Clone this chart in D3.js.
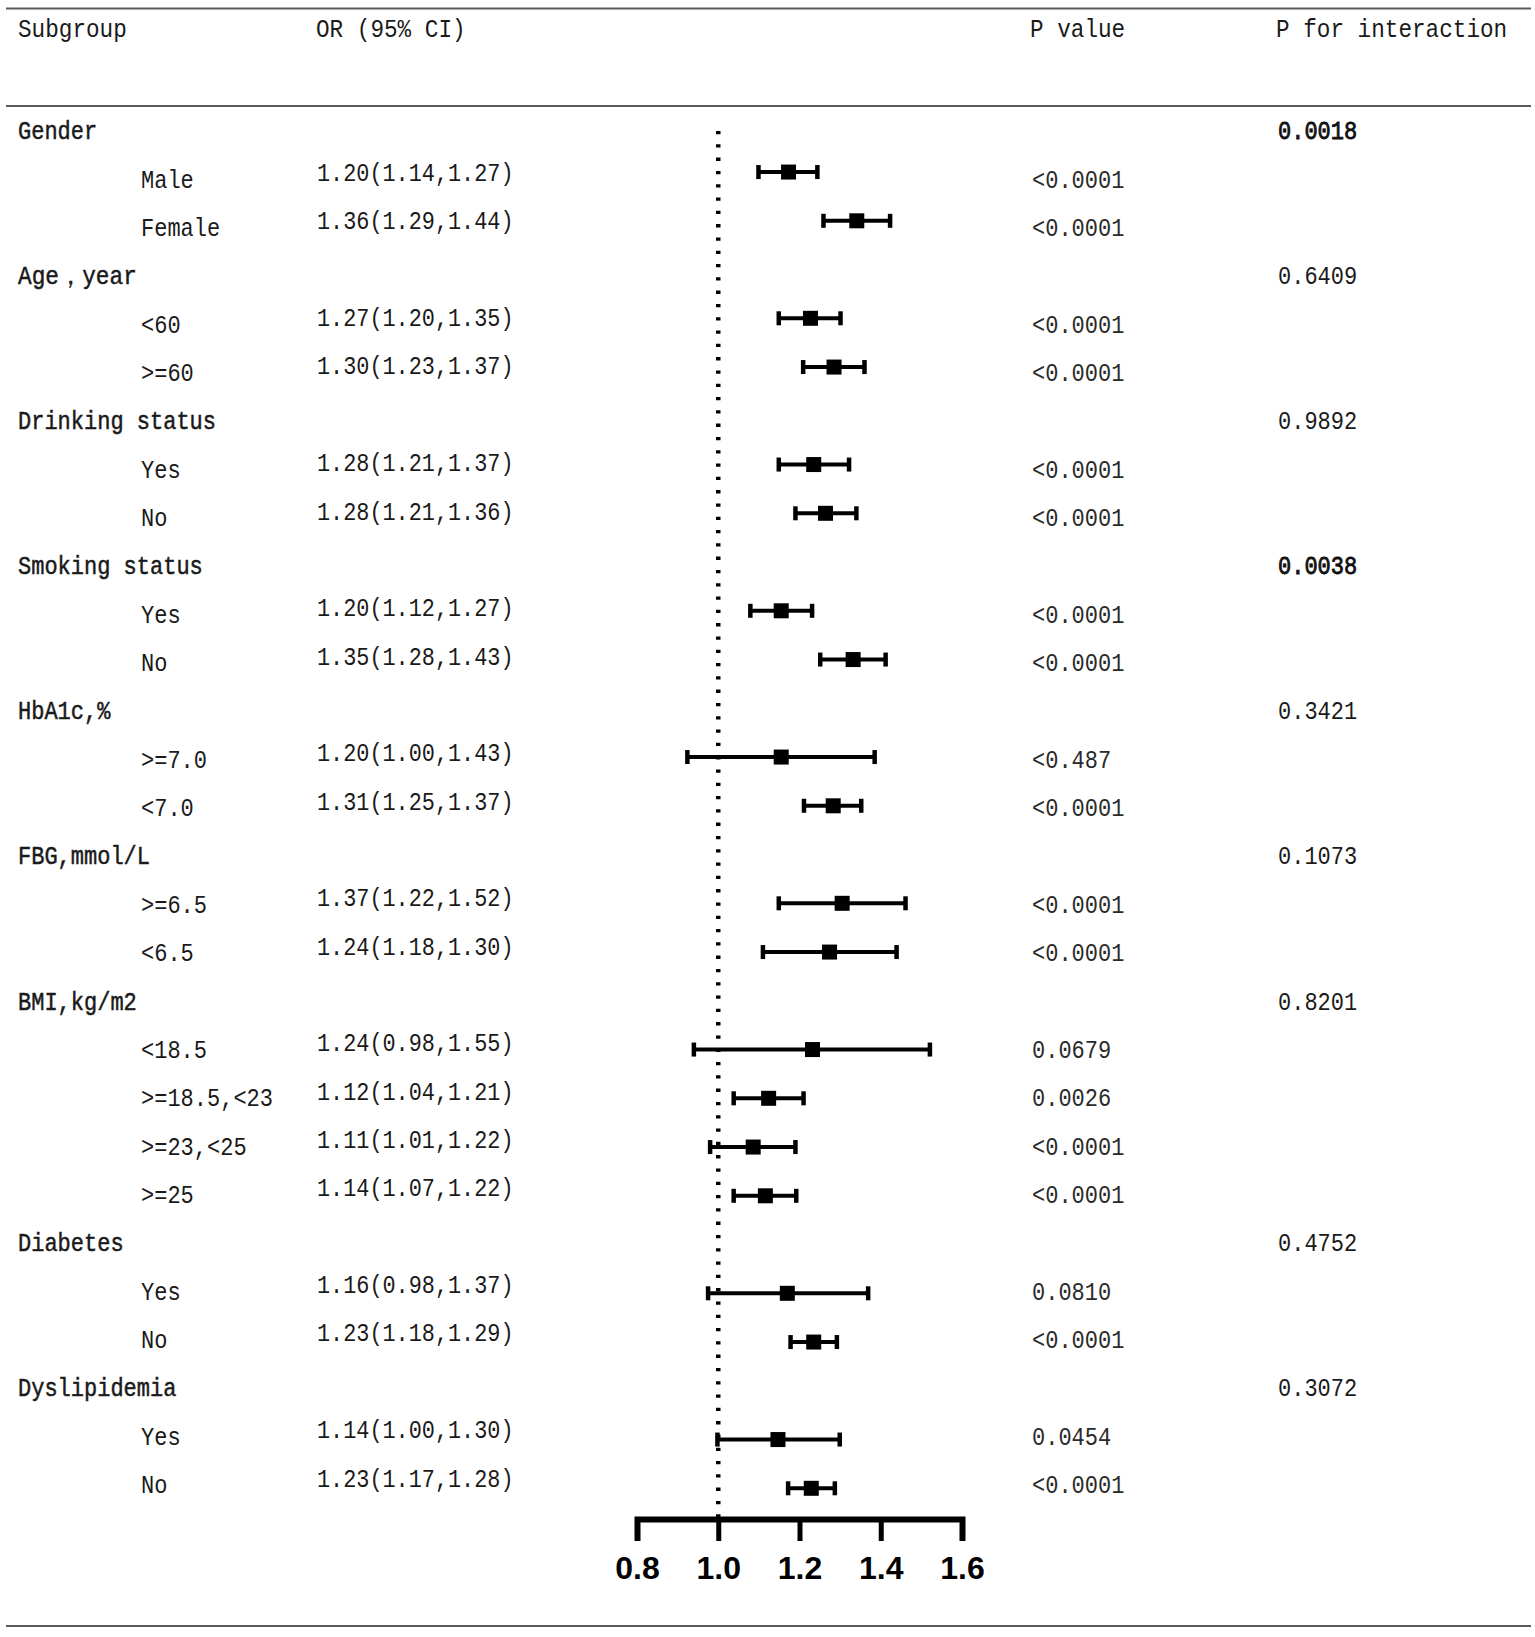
<!DOCTYPE html>
<html lang="en">
<head>
  <meta charset="UTF-8" />
  <title>Subgroup forest plot (D3.js)</title>
  <script src="https://d3js.org/d3.v7.min.js"></script>
  <style>
    body {
      margin: 0;
      background: #ffffff;
    }

    svg text {
      font-family: 'Liberation Mono', 'DejaVu Sans Mono', monospace;
      fill: #1a1a1a;
    }

    .rule {
      stroke: #5a5a5a;
      stroke-width: 2;
    }

    .axis text {
      font-family: 'Liberation Sans', Arial, sans-serif;
      font-weight: bold;
      font-size: 32px;
      fill: #000;
    }
  </style>
</head>
<body>
  <svg id="forest" width="1535" height="1637"></svg>

  <script>
    // ---- data ----
    const headers = ["Subgroup", "OR (95% CI)", "P value", "P for interaction"];

    const groups = ["Gender", "Age，year", "Drinking status", "Smoking status", "HbA1c,%",
                    "FBG,mmol/L", "BMI,kg/m2", "Diabetes", "Dyslipidemia"];
    const pInteraction = ["0.0018", "0.6409", "0.9892", "0.0038", "0.3421",
                          "0.1073", "0.8201", "0.4752", "0.3072"];
    const pInteractionBold = ["0.0018", "0.0038"];

    const subLabels = ["Male", "Female", "<60", ">=60", "Yes", "No", "Yes", "No",
                       ">=7.0", "<7.0", ">=6.5", "<6.5",
                       "<18.5", ">=18.5,<23", ">=23,<25", ">=25",
                       "Yes", "No", "Yes", "No"];
    const subGroupOf = [0, 0, 1, 1, 2, 2, 3, 3, 4, 4, 5, 5, 6, 6, 6, 6, 7, 7, 8, 8];

    const orText = ["1.20(1.14,1.27)", "1.36(1.29,1.44)", "1.27(1.20,1.35)", "1.30(1.23,1.37)",
                    "1.28(1.21,1.37)", "1.28(1.21,1.36)", "1.20(1.12,1.27)", "1.35(1.28,1.43)",
                    "1.20(1.00,1.43)", "1.31(1.25,1.37)", "1.37(1.22,1.52)", "1.24(1.18,1.30)",
                    "1.24(0.98,1.55)", "1.12(1.04,1.21)", "1.11(1.01,1.22)", "1.14(1.07,1.22)",
                    "1.16(0.98,1.37)", "1.23(1.18,1.29)", "1.14(1.00,1.30)", "1.23(1.17,1.28)"];
    const pValue = ["<0.0001", "<0.0001", "<0.0001", "<0.0001", "<0.0001", "<0.0001",
                    "<0.0001", "<0.0001", "<0.487", "<0.0001", "<0.0001", "<0.0001",
                    "0.0679", "0.0026", "<0.0001", "<0.0001", "0.0810", "<0.0001",
                    "0.0454", "<0.0001"];

    // positions of the drawn marks (point estimate and whiskers)
    const estimate = [1.173, 1.341, 1.227, 1.285, 1.235, 1.264, 1.155, 1.332, 1.155, 1.283,
                      1.305, 1.274, 1.232, 1.124, 1.086, 1.116, 1.170, 1.235, 1.147, 1.229];
    const lower    = [1.099, 1.259, 1.149, 1.209, 1.149, 1.190, 1.079, 1.251, 0.924, 1.211,
                      1.149, 1.110, 0.940, 1.038, 0.980, 1.038, 0.975, 1.178, 0.998, 1.172];
    const upper    = [1.244, 1.423, 1.301, 1.360, 1.322, 1.340, 1.231, 1.412, 1.385, 1.352,
                      1.461, 1.439, 1.521, 1.210, 1.190, 1.192, 1.369, 1.292, 1.299, 1.287];

    const xTicks = [0.8, 1.0, 1.2, 1.4, 1.6];

    // ---- build the table of rows ----
    const rows = [];
    groups.forEach((g, gi) => {
      rows.push({type: "group", label: g, pint: pInteraction[gi]});
      subLabels.forEach((s, i) => {
        if (subGroupOf[i] !== gi) return;
        rows.push({type: "sub", label: s, or: orText[i], p: pValue[i],
                   est: estimate[i], lo: lower[i], hi: upper[i]});
      });
    });
    rows.forEach((r, i) => r.id = i);

    const svg = d3.select("#forest");

    const x = d3.scaleLinear().domain([0.8, 1.6]).range([637, 962]);
    // the marks and the text table sit on slightly different row pitches
    const y = d3.scalePoint().domain(rows.map(r => r.id)).range([123.3, 1488.3]);
    const yText = d3.scalePoint().domain(rows.map(r => r.id)).range([124.2, 1478]);

    const axisY = 1519;
    const col = {group: 18, sub: 141, or: 317, p: 1032, pint: 1278};

    // SimSun-like half-width advance
    const units = s => Array.from(s).reduce((a, c) => a + (c.charCodeAt(0) > 0x2000 ? 2 : 1), 0);
    function addText(g, str, xPos, yPos, adv, size) {
      return g.append("text")
        .attr("x", xPos)
        .attr("y", yPos)
        .attr("font-size", size)
        .attr("textLength", units(str) * adv)
        .attr("lengthAdjust", "spacingAndGlyphs")
        .text(str);
    }

    // rules
    [8.5, 106, 1626].forEach(yy => {
      svg.append("line").attr("class", "rule")
        .attr("x1", 6).attr("x2", 1531).attr("y1", yy).attr("y2", yy);
    });

    // header
    const head = svg.append("g");
    [col.group, 316, 1030, 1276].forEach((xx, i) => addText(head, headers[i], xx, 37, 13.6, 25));

    // text columns
    const tg = svg.append("g");
    rows.forEach(r => {
      const yy = yText(r.id);
      if (r.type === "group") {
        addText(tg, r.label, col.group, yy + 15, 13.2, 26.5)
          .attr("stroke", "#1a1a1a").attr("stroke-width", 0.5);
        const t = addText(tg, r.pint, col.pint, yy + 15, 13.2, 26.5);
        if (pInteractionBold.includes(r.pint)) t.attr("stroke", "#000").attr("stroke-width", 0.8);
      } else {
        addText(tg, r.label, col.sub, yy + 15, 13.2, 26.5);
        addText(tg, r.or, col.or, yy + 8.5, 13.1, 26.5);
        addText(tg, r.p, col.p, yy + 15, 13.2, 26.5).style("fill", "#2a2a2a");
      }
    });

    // reference line at OR = 1
    svg.append("line")
      .attr("x1", x(1)).attr("x2", x(1))
      .attr("y1", 131).attr("y2", axisY)
      .attr("stroke", "#000")
      .attr("stroke-width", 4.5)
      .attr("stroke-dasharray", "3.3,10");

    // CI whiskers and squares
    const subs = rows.filter(r => r.type === "sub");
    const mk = svg.append("g");
    mk.selectAll("line.ci")
      .data(subs)
      .join("line")
        .attr("class", "ci")
        .attr("x1", d => x(d.lo)).attr("x2", d => x(d.hi))
        .attr("y1", d => y(d.id)).attr("y2", d => y(d.id))
        .attr("stroke", "#000").attr("stroke-width", 4);
    ["lo", "hi"].forEach(k => {
      mk.selectAll("line.cap-" + k)
        .data(subs)
        .join("line")
          .attr("class", "cap-" + k)
          .attr("x1", d => x(d[k])).attr("x2", d => x(d[k]))
          .attr("y1", d => y(d.id) - 7).attr("y2", d => y(d.id) + 7)
          .attr("stroke", "#000").attr("stroke-width", 4.5);
    });
    mk.selectAll("rect")
      .data(subs)
      .join("rect")
        .attr("x", d => x(d.est) - 7.5)
        .attr("y", d => y(d.id) - 7.5)
        .attr("width", 15).attr("height", 15)
        .attr("fill", "#000");

    // x axis
    const axis = svg.append("g")
      .attr("class", "axis")
      .attr("transform", `translate(0,${axisY})`)
      .call(d3.axisBottom(x)
        .tickValues(xTicks)
        .tickFormat(d3.format(".1f"))
        .tickSize(22)
        .tickSizeOuter(22)
        .tickPadding(15));
    axis.select(".domain").attr("stroke", "#000").attr("stroke-width", 6);
    axis.selectAll(".tick line").attr("stroke", "#000").attr("stroke-width", 5);
  </script>
</body>
</html>
